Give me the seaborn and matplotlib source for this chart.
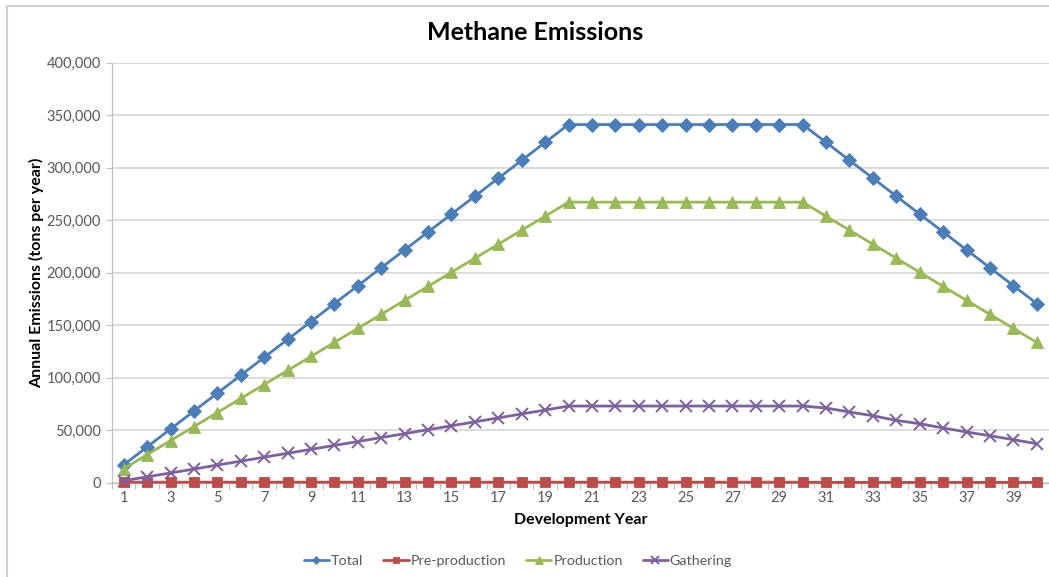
import matplotlib
matplotlib.use("Agg")
import matplotlib.pyplot as plt
from matplotlib.patches import Rectangle
from matplotlib.ticker import FuncFormatter, FixedLocator, NullFormatter
import seaborn as sns
import pandas as pd

# Development years and annual methane emissions (tons per year)
years = list(range(1, 41))

total = [17000, 34100, 51200, 68200, 85300, 102300, 119400, 136400, 153500, 170600,
         187600, 204700, 221700, 238800, 255800, 272900, 290000, 307000, 324100, 341100,
         341100, 341100, 341100, 341100, 341100, 341100, 341100, 341100, 341100, 341100,
         324100, 307000, 290000, 272900, 255800, 238800, 221700, 204700, 187600, 170600]

pre_production = [500, 500, 500, 500, 500, 500, 500, 500, 500, 500,
                  500, 500, 500, 500, 500, 500, 500, 500, 500, 500,
                  500, 500, 500, 500, 500, 500, 500, 500, 500, 500,
                  300, 300, 300, 300, 300, 300, 300, 300, 300, 300]

production = [13400, 26700, 40100, 53400, 66800, 80200, 93500, 106900, 120200, 133600,
              147000, 160300, 173700, 187000, 200400, 213800, 227100, 240500, 253800, 267200,
              267200, 267200, 267200, 267200, 267200, 267200, 267200, 267200, 267200, 267200,
              253800, 240500, 227100, 213800, 200400, 187000, 173700, 160300, 147000, 133600]

gathering = [1900, 5600, 9300, 13000, 16800, 20500, 24300, 28000, 31800, 35500,
             39200, 43000, 46700, 50500, 54200, 58000, 61700, 65500, 69200, 73000,
             73000, 73000, 73000, 73000, 73000, 73000, 73000, 73000, 73000, 73000,
             71100, 67300, 63800, 59300, 56200, 52100, 48300, 44700, 41000, 37100]

series_names = ["Total", "Pre-production", "Production", "Gathering"]
series_values = [total, pre_production, production, gathering]
series_colors = ["#4a7ebb", "#be4b48", "#98b954", "#7d60a0"]
series_markers = ["D", "s", "^", "x"]
series_sizes = [6.8, 7.5, 8.8, 8.5]

y_ticks = [0, 50000, 100000, 150000, 200000, 250000, 300000, 350000, 400000]

frames = []
for name, vals in zip(series_names, series_values):
    frames.append(pd.DataFrame({"Development Year": years, "Emissions": vals, "Series": name}))
df = pd.concat(frames, ignore_index=True)

sns.set_theme(style="white")
plt.rcParams["font.family"] = ["Lato", "DejaVu Sans"]

fig = plt.figure(figsize=(10.49, 5.77), dpi=100)
ax = fig.add_axes([112 / 1049, 1 - 482.7 / 577, (1048.5 - 112) / 1049, (482.7 - 62.7) / 577])

# Outer chart border (light grey frame)
fig.patches.append(Rectangle((6.5 / 1049, -0.2), 1.2, 1.2 - 5.5 / 577, transform=fig.transFigure,
                             fill=False, edgecolor="#d0d0d0", linewidth=1.5, zorder=0))

series_lines = []
for name, color, marker, ms in zip(series_names, series_colors, series_markers, series_sizes):
    sub = df[df["Series"] == name]
    n_before = len(ax.lines)
    sns.lineplot(data=sub, x="Development Year", y="Emissions", ax=ax, color=color,
                 linewidth=2.0, legend=False)
    line = ax.lines[n_before]
    line.set_linestyle("-")
    line.set_marker(marker)
    line.set_markersize(ms)
    line.set_markerfacecolor(color)
    line.set_markeredgecolor(color)
    line.set_markeredgewidth(1.4 if marker == "x" else 0.6)
    line.set_clip_on(False)
    line.set_zorder(4)
    line.set_label(name)
    series_lines.append(line)

ax.set_xlim(0.5, 40.5)
ax.set_ylim(0, 400000)
ax.set_yticks(y_ticks)
ax.yaxis.set_major_formatter(FuncFormatter(lambda v, p: f"{int(v):,}"))
ax.grid(axis="y", color="#d9d9d9", linewidth=1.3)
ax.set_axisbelow(True)

# Category axis: labels on odd years, tick marks at category boundaries
ax.xaxis.set_major_locator(FixedLocator(list(range(1, 41, 2))))
ax.tick_params(axis="x", which="major", length=0, pad=6, labelsize=10.5, colors="#595959")
ax.xaxis.set_minor_locator(FixedLocator([y + 0.5 for y in range(0, 41)]))
ax.xaxis.set_minor_formatter(NullFormatter())
ax.tick_params(axis="x", which="minor", length=4, width=0.8, color="#bfbfbf", bottom=True)
ax.tick_params(axis="y", which="major", length=4, width=0.8, color="#bfbfbf", left=True,
               labelsize=10.5, labelcolor="#595959", pad=4)

for side in ["top", "right"]:
    ax.spines[side].set_visible(False)
for side in ["left", "bottom"]:
    ax.spines[side].set_color("#bfbfbf")
    ax.spines[side].set_linewidth(0.9)
    ax.spines[side].set_zorder(1)

ax.set_xlabel("Development Year", fontsize=11.5, fontweight="bold", color="#000000", labelpad=6)
ax.set_ylabel("Annual Emissions (tons per year)", fontsize=11.5, fontweight="bold", color="#000000",
              labelpad=2)
fig.text(535 / 1049, 1 - 32 / 577, "Methane Emissions", ha="center", va="center",
         fontsize=18, fontweight="bold", color="#000000")

fig.legend(series_lines, series_names, loc="center", bbox_to_anchor=(518 / 1049, 1 - 561 / 577), ncol=4,
           frameon=False, fontsize=10.3, handlelength=1.75, columnspacing=1.4, handletextpad=0.15,
           markerscale=0.65, labelcolor="#595959")

fig.savefig("out.png", dpi=100, facecolor="white")
